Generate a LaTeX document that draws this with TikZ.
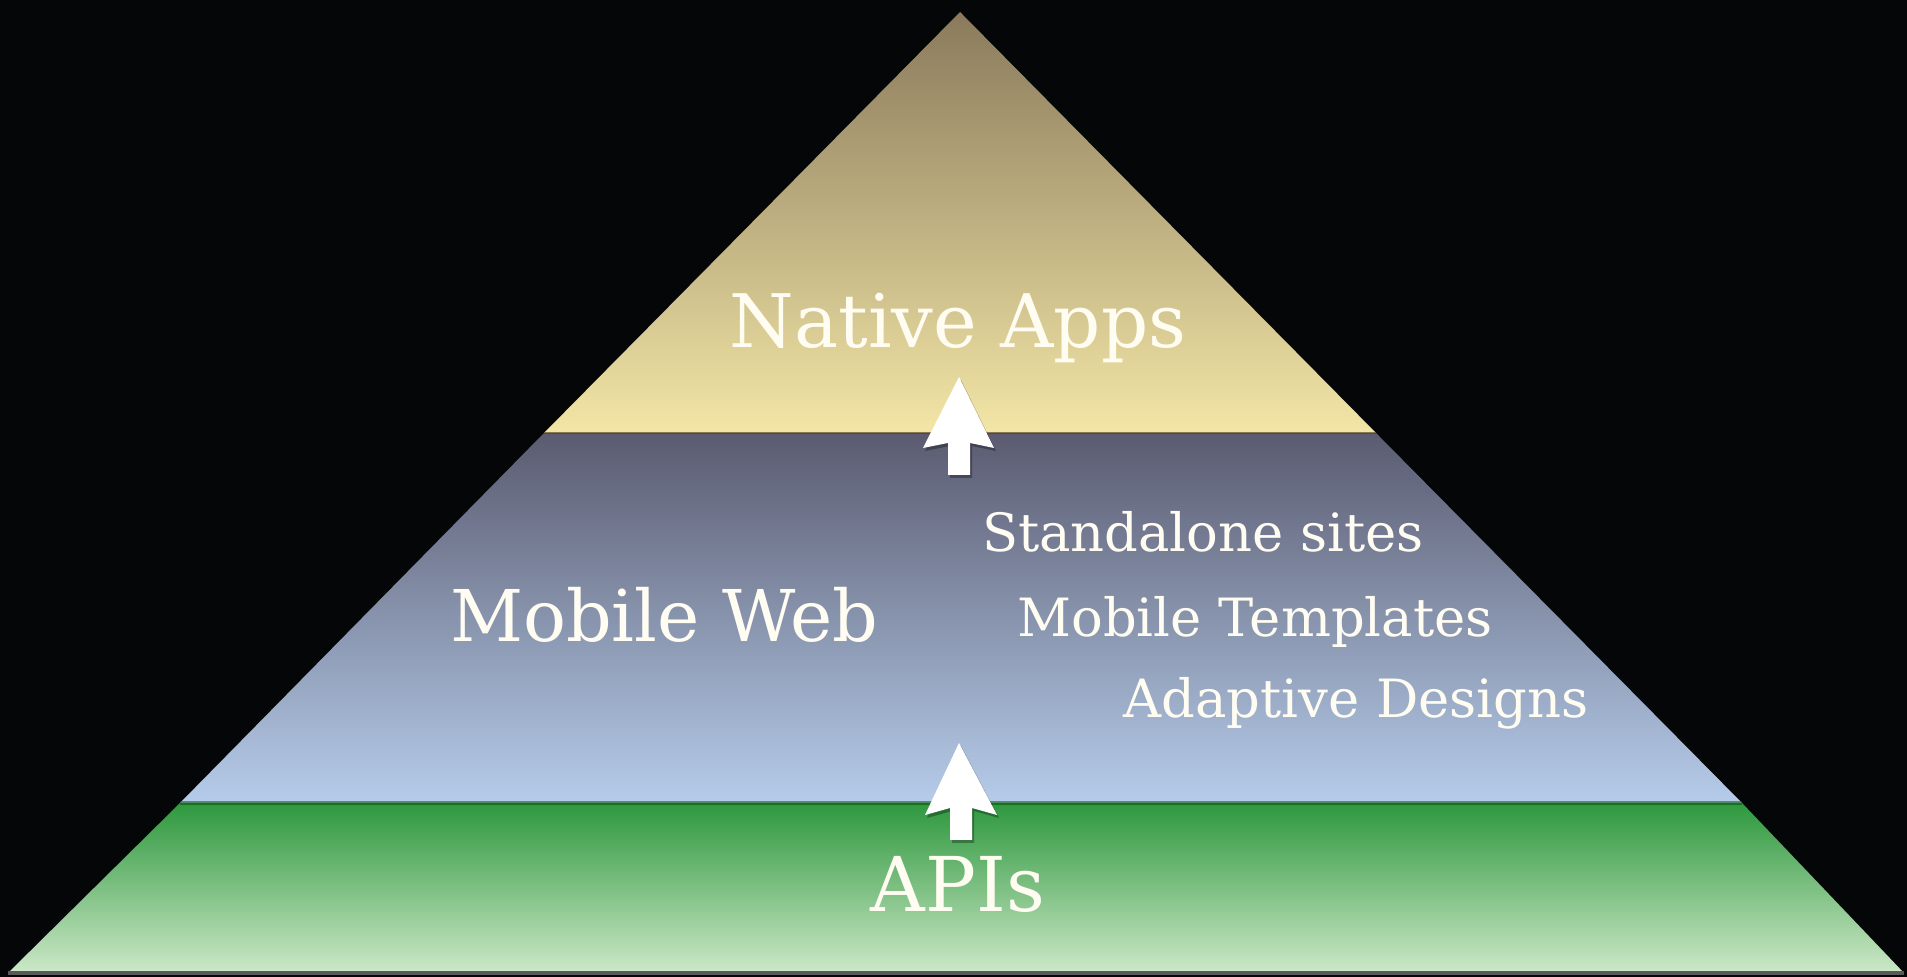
\documentclass[tikz,border=0pt]{standalone}
\usepackage{fontspec}
\setmainfont{DejaVu Serif}
\definecolor{bgblack}{HTML}{050608}
\definecolor{toptop}{HTML}{8A7A5C}
\definecolor{topbot}{HTML}{F3E6A6}
\definecolor{midtop}{HTML}{5A5B70}
\definecolor{midbot}{HTML}{B6CCEA}
\definecolor{lowtop}{HTML}{2E983E}
\definecolor{lowbot}{HTML}{CDE8C8}
\definecolor{txt}{HTML}{FFFCF2}
\tikzset{
  lbl/.style={text=txt, inner sep=0pt, anchor=base},
  big/.style={lbl, font=\fontsize{21}{21}\selectfont},
  small/.style={lbl, font=\fontsize{15}{15}\selectfont},
  blockarrow/.style={fill=white, draw=none},
  arrowshadow/.style={fill=black, opacity=0.3, draw=none},
}
\begin{document}
\begin{tikzpicture}[x=0.01cm, y=-0.01cm]
\useasboundingbox (0,0) rectangle (1907,977);
\fill[bgblack] (0,0) rectangle (1907,977);
% bands
\coordinate (apex) at (960,12);
\coordinate (tl) at (544,433);
\coordinate (tr) at (1376,433);
\coordinate (ml) at (180,803);
\coordinate (mr) at (1742,803);
\coordinate (bl) at (8,973);
\coordinate (br) at (1904,973);
\shade[top color=toptop, bottom color=topbot] (apex) -- (tr) -- (tl) -- cycle;
\shade[top color=midtop, bottom color=midbot] (tl) -- (tr) -- (mr) -- (ml) -- cycle;
\shade[top color=lowtop, bottom color=lowbot] (ml) -- (mr) -- (br) -- (bl) -- cycle;
\draw[line width=0.8pt, color=black!55!brown, opacity=0.6] (tl) -- (tr);
\draw[line width=1pt, color=green!30!black, opacity=0.5] (ml) -- (mr);
\draw[line width=1.2pt, color=gray!70!black] (bl) -- (br);
% arrows
\begin{scope}[shift={(2,3)}]
\fill[arrowshadow] (959,377) -- (994,448) -- (970,443) -- (970,475) -- (948,475) -- (948,443) -- (923,448) -- cycle;
\fill[arrowshadow] (959,743) -- (997,815) -- (972,808) -- (972,840) -- (950,840) -- (950,808) -- (925,815) -- cycle;
\end{scope}
\fill[blockarrow] (959,377) -- (994,448) -- (970,443) -- (970,475) -- (948,475) -- (948,443) -- (923,448) -- cycle;
\fill[blockarrow] (959,743) -- (997,815) -- (972,808) -- (972,840) -- (950,840) -- (950,808) -- (925,815) -- cycle;
% labels
\node[big] (native) at (958,348) {Native Apps};
\node[lbl, font=\fontsize{20.3}{20.3}\selectfont] (mweb) at (664,642) {Mobile Web};
\node[small] (stand) at (1203,552) {Standalone sites};
\node[small] (mtemp) at (1255,637) {Mobile Templates};
\node[small] (adapt) at (1356,718) {Adaptive Designs};
\node[lbl, font=\fontsize{21.5}{21.5}\selectfont] (apis) at (958,912) {APIs};
\end{tikzpicture}
\end{document}
